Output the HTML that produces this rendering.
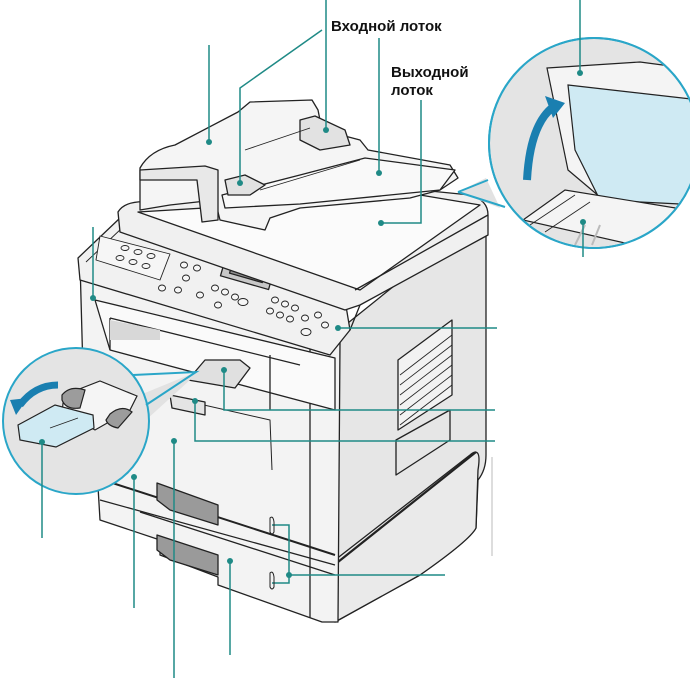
<!DOCTYPE html>
<html><head><meta charset="utf-8"><style>
html,body{margin:0;padding:0;background:#fff;}
svg{display:block}
text{font-family:"Liberation Sans",sans-serif;font-weight:bold;font-size:15px;fill:#111}
</style></head><body>
<svg width="690" height="678" viewBox="0 0 690 678" xmlns="http://www.w3.org/2000/svg">
<defs>
<clipPath id="c1"><circle cx="594" cy="143" r="104"/></clipPath>
<clipPath id="c2"><circle cx="76" cy="421" r="72"/></clipPath>
</defs>
<g stroke="#222" stroke-width="1.3" stroke-linejoin="round" fill="#efefef">
<path d="M333 335 L470 225 Q484 212 486 230 L486 455 Q486 470 478 480 L476 528 Q470 540 420 575 L335 622 Z" fill="#e6e6e6"/>
<path d="M335 560 L470 455 Q482 445 478 470 L476 528 Q470 540 420 575 L335 622 Z" fill="#eaeaea"/>
<path d="M338 562 L476 452" stroke-width="2.2" fill="none"/>
<path d="M80 262 L340 342 L338 622 L322 622 L218 585 L218 577 L160 555 L160 540 L100 520 L97 470 L85 445 Z" fill="#f3f3f3"/>
<path d="M310 345 L310 618" fill="none"/>
<path d="M97 478 L335 555" fill="none" stroke-width="2"/>
<path d="M100 500 L335 565" fill="none"/>
<path d="M140 512 L335 575" fill="none"/>
<path d="M157 483 L218 505 L218 525 L170 510 L157 500 Z" fill="#9a9a9a"/>
<path d="M157 535 L218 555 L218 575 L170 560 L157 550 Z" fill="#9a9a9a"/>
<path d="M160 395 L270 420 L272 470" fill="none" stroke-width="1"/>
<path d="M95 300 L335 358 L335 410 L110 350 Z" fill="#fafafa"/>
<path d="M110 318 L110 350 M270 355 L270 410" fill="none"/>
<path d="M110 318 L300 365" fill="none"/>
<path d="M110 320 L160 330 L160 340 L110 340 Z" fill="#d8d8d8" stroke="none"/>
<path d="M188 380 L205 360 L240 360 L250 368 L235 388 Z" fill="#e0e0e0"/>
<path d="M170 395 L205 402 L205 415 L172 408 Z" fill="#e4e4e4"/>
<path d="M398 360 L452 320 L452 395 L398 430 Z" fill="#f2f2f2"/>
<g stroke-width="0.8" fill="none">
<path d="M400 375 L452 335 M400 385 L452 345 M400 395 L452 355 M400 405 L452 365 M400 415 L452 375 M400 425 L452 385"/>
</g>
<path d="M396 440 L450 410 L450 440 L396 475 Z" fill="#e6e6e6"/>
<path d="M78 258 L120 218 L345 300 L350 330 L330 355 L80 280 Z" fill="#f1f1f1"/>
<path d="M86 262 L122 228 L340 305" fill="none" stroke-width="0.9"/>
<rect x="222" y="265" width="50" height="18" transform="rotate(16 247 274)" fill="#c8c8c8"/>
<rect x="230" y="269" width="34" height="9" transform="rotate(16 247 274)" fill="#8e8e8e"/>
<path d="M100 236 L170 254 L160 280 L96 260 Z" fill="#f6f6f6" stroke-width="0.9"/>
<g fill="#f6f6f6" stroke-width="0.9">
<ellipse cx="125" cy="248" rx="4" ry="2.5"/><ellipse cx="138" cy="252" rx="4" ry="2.5"/><ellipse cx="151" cy="256" rx="4" ry="2.5"/>
<ellipse cx="120" cy="258" rx="4" ry="2.5"/><ellipse cx="133" cy="262" rx="4" ry="2.5"/><ellipse cx="146" cy="266" rx="4" ry="2.5"/>
<ellipse cx="184" cy="265" rx="3.5" ry="3"/><ellipse cx="197" cy="268" rx="3.5" ry="3"/><ellipse cx="186" cy="278" rx="3.5" ry="3"/>
<ellipse cx="162" cy="288" rx="3.5" ry="3"/><ellipse cx="178" cy="290" rx="3.5" ry="3"/><ellipse cx="200" cy="295" rx="3.5" ry="3"/>
<ellipse cx="215" cy="288" rx="3.5" ry="3"/><ellipse cx="225" cy="292" rx="3.5" ry="3"/><ellipse cx="235" cy="297" rx="3.5" ry="3"/>
<ellipse cx="243" cy="302" rx="5" ry="3.5"/><ellipse cx="218" cy="305" rx="3.5" ry="3"/>
<ellipse cx="275" cy="300" rx="3.5" ry="3"/><ellipse cx="285" cy="304" rx="3.5" ry="3"/><ellipse cx="295" cy="308" rx="3.5" ry="3"/>
<ellipse cx="270" cy="311" rx="3.5" ry="3"/><ellipse cx="280" cy="315" rx="3.5" ry="3"/><ellipse cx="290" cy="319" rx="3.5" ry="3"/>
<ellipse cx="305" cy="318" rx="3.5" ry="3"/><ellipse cx="318" cy="315" rx="3.5" ry="3"/><ellipse cx="325" cy="325" rx="3.5" ry="3"/>
<ellipse cx="306" cy="332" rx="5" ry="3.5"/>
</g>
<path d="M118 212 Q125 200 150 202 L420 190 L470 195 Q488 200 488 215 L488 235 L360 305 L345 310 L120 232 Z" fill="#f0f0f0"/>
<path d="M138 212 L420 195 L480 205 L360 290 Z" fill="#fbfbfb"/>
<path d="M355 290 L488 215 M360 305 L350 330" fill="none"/>
<path d="M140 168 Q150 150 175 145 L238 112 L250 102 L312 100 L318 110 L322 130 L360 140 L368 150 L450 165 L458 178 L440 190 L410 198 L300 208 L270 218 L265 230 L220 220 L215 200 L170 205 L140 210 Z" fill="#f5f5f5"/>
<path d="M140 170 L205 166 L218 170 L218 220 L202 222 L197 180 L140 180 Z" fill="#e8e8e8"/>
<path d="M222 195 L300 175 L365 158 L455 170 L440 190 L300 204 L225 208 Z" fill="#f9f9f9"/>
<path d="M300 120 L315 116 L345 130 L350 145 L320 150 L300 140 Z" fill="#e2e2e2"/>
<path d="M225 180 L245 175 L265 185 L250 195 L228 195 Z" fill="#e2e2e2"/>
<path d="M245 150 L310 128 M260 190 L360 160" fill="none" stroke-width="0.9"/>
</g>

<path d="M458 192 L486 178 L500 208 Z" fill="#e2e2e2" stroke="none"/>
<circle cx="594" cy="143" r="105" fill="#e4e4e4" stroke="#2aa6c8" stroke-width="2"/>
<g clip-path="url(#c1)">
<g stroke="#222" stroke-width="1.2">
<path d="M547 68 L640 62 L700 70 L700 200 L600 197 L568 170 Z" fill="#f4f4f4"/>
<path d="M568 85 L700 100 L700 205 L600 200 L575 150 Z" fill="#cfeaf3"/>
<path d="M523 220 L565 190 L700 212 L700 260 Z" fill="#f4f4f4"/>
<path d="M530 225 L575 195 M545 232 L590 202" fill="none" stroke-width="0.8"/>
</g>
<path d="M585 225 L575 245 M600 225 L592 245" stroke="#bbb" stroke-width="2"/>
</g>
<circle cx="594" cy="143" r="105" fill="none" stroke="#2aa6c8" stroke-width="2"/>
<path d="M458 192 L488 180 M458 192 L505 207" stroke="#2aa6c8" stroke-width="2" fill="none"/>
<path d="M527 180 Q530 125 553 107" stroke="#1a7fb0" stroke-width="8" fill="none"/>
<path d="M545 96 L565 103 L553 118 Z" fill="#1a7fb0"/>

<path d="M140 395 L196 372 L190 380 L146 420 Z" fill="#e2e2e2" stroke="none"/>
<circle cx="76" cy="421" r="73" fill="#e4e4e4" stroke="#2aa6c8" stroke-width="2"/>
<path d="M133 375 L196 372 L146 405" stroke="#2aa6c8" stroke-width="2" fill="none"/>
<g stroke="#222" stroke-width="1.2" clip-path="url(#c2)">
<path d="M64 395 L100 381 L137 396 L130 410 L95 430 L62 412 Z" fill="#f5f5f5"/>
<path d="M62 395 Q70 385 85 390 L80 408 Q66 410 62 400 Z" fill="#9c9c9c"/>
<path d="M110 414 Q122 404 132 412 L118 428 Q108 426 106 420 Z" fill="#9c9c9c"/>
<path d="M18 425 L55 405 L93 415 L94 428 L56 447 L20 440 Z" fill="#cfeaf3"/>
<path d="M50 428 L78 418" stroke-width="0.8"/>
</g>
<path d="M58 385 Q35 385 20 405" stroke="#1a7fb0" stroke-width="7" fill="none"/>
<path d="M10 400 L28 398 L16 415 Z" fill="#1a7fb0"/>

<g stroke="#1f8a86" stroke-width="1.5" fill="none">
<path d="M326 0 V130"/>
<path d="M322 30 L240 88 V183"/>
<path d="M379 38 V173"/>
<path d="M421 100 V223 H381"/>
<path d="M209 45 V142"/>
<path d="M93 227 V298"/>
<path d="M338 328 H497"/>
<path d="M580 0 V73"/>
<path d="M583 222 V257"/>
<path d="M224 370 V410 H495"/>
<path d="M195 401 V441 H495"/>
<path d="M42 442 V538"/>
<path d="M134 477 V608"/>
<path d="M174 441 V678"/>
<path d="M230 561 V655"/>
<path d="M272 525 H289 V583 H272 M289 575 H445"/>
</g>
<path d="M492 457 V556" stroke="#bbb" stroke-width="1"/>
<g fill="#1f8a86">
<circle cx="326" cy="130" r="3"/><circle cx="240" cy="183" r="3"/><circle cx="379" cy="173" r="3"/>
<circle cx="381" cy="223" r="3"/><circle cx="209" cy="142" r="3"/><circle cx="93" cy="298" r="3"/>
<circle cx="338" cy="328" r="3"/><circle cx="580" cy="73" r="3"/><circle cx="583" cy="222" r="3"/>
<circle cx="224" cy="370" r="3"/><circle cx="195" cy="401" r="3"/><circle cx="42" cy="442" r="3"/>
<circle cx="134" cy="477" r="3"/><circle cx="174" cy="441" r="3"/><circle cx="230" cy="561" r="3"/>
<circle cx="289" cy="575" r="3"/>
</g>
<g stroke="#222" stroke-width="1" fill="none">
<path d="M270 518 Q273 515 274 522 V532 Q272 536 270 532 Z"/>
<path d="M270 573 Q273 570 274 577 V587 Q272 591 270 587 Z"/>
</g>

<text x="331" y="31">Входной лоток</text>
<text x="391" y="77">Выходной</text>
<text x="391" y="95">лоток</text>
</svg>
</body></html>
